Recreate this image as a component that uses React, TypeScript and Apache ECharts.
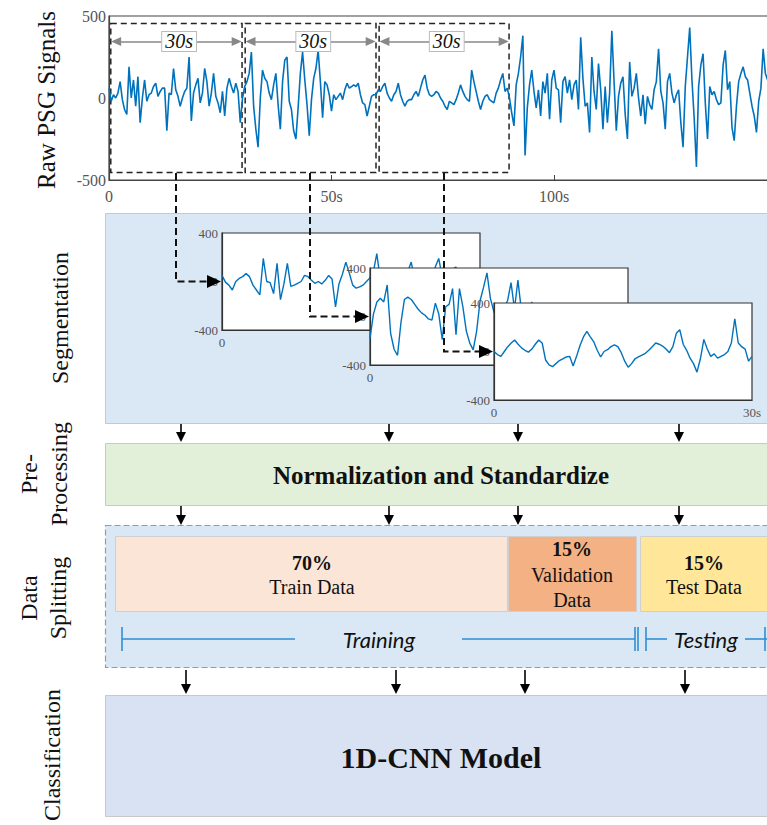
import React, { useEffect, useRef } from "react";
import * as echarts from "echarts";

// ---------------- DATA ----------------
const RAW_STEP = 0.5; // seconds between raw samples
const rawSignal = [
  // 0 - 29.5 s
  60, -20, 20, 0, 30, 100, -10, -70, -100, 190, 0, 110, -50, 130, -150, 0, 110, -20, 20, 30,
  70, 90, 10, 40, 60, 60, -200, 30, 20, 180, 50, 10, -50, 0, 40, 60, 250, -140, 30, 80,
  120, -30, 30, 180, 100, -50, 30, 150, 10, -30, -90, 40, -110, 60, 120, 70, 30, 90, 40, -150,
  // 30 - 59.5 s
  0, 70, 100, 150, 280, -50, -190, -300, 0, 170, 120, 100, 30, -10, 80, 150, -40, -190, 100, 230,
  250, -20, -70, -200, -250, -60, 150, 280, 110, -40, -230, -10, 120, 180, 290, 100, -120, 100, 80, 20,
  -80, 20, -10, 10, 30, -10, 50, 90, 60, 70, 80, 70, 90, 20, -30, -40, -110, -50, 10, 20,
  // 60 - 89.5 s
  20, 50, 40, 70, 90, 30, 0, -20, 20, 40, 90, 20, -20, -50, -20, -10, -10, 20, 40, 10,
  60, 110, 140, 60, 20, 10, 20, 40, 30, 0, -20, -50, -70, -20, -30, -40, -10, 30, 80, 40,
  10, -10, -20, 170, 100, 40, -20, -70, -20, 10, 20, -10, -20, -30, 30, 60, 110, 150, 40, 60,
  // 90 - 148 s
  0, -90, -170, 80, 150, 250, 380, -350, -60, 80, 170, 40, -60, 50, -110, 100, 30, 150, -130, 110,
  170, 60, 50, -150, 100, 130, 30, 110, -10, 80, 110, -70, 370, 120, -50, -30, -210, 250, 40, -70,
  210, 50, -190, 70, -150, 30, 410, 100, -200, 10, 90, 130, -100, -250, 220, 10, 60, 150, 0, -110,
  20, -160, 10, -40, -70, 50, 100, 300, 40, -30, -190, 100, 150, 30, -30, 20, 50, -150, -300, 70,
  250, 430, 110, -120, -420, 70, 200, 270, -30, -250, 70, 20, 40, -10, -40, -30, 200, 290, 50, 100,
  -180, -260, -50, 100, 150, 190, 130, 110, 30, -50, -110, -210, -20, 60, 300, 150, 110,
];

const SEG_STEP = 0.4; // seconds between segment samples
const segment1 = [
  50, -5, -30, -70, 0, 25, 40, 65, 40, -30, -70, -110, 190, 0, -10, -100, 150, -150, -20, 150,
  -40, -30, -15, 0, 50, 40, 10, -15, 0, -20, 10, 50, 20, -210, -20, 60, 160, 70, -30, -55,
  -45, -30, 0, 30, 80, 230, 20, -40, 10, 40, -20, 30, 60, 0, 80, 160, 20, -60, 10, 50,
  70, 30, 120, 190, 40, -20, 40, 100, 120, 30, 0, 40, 20, -30, 10, 20,
];
const segment2 = [
  -180, 20, 120, 150, 120, 260, -140, -270, -320, -50, 140, 160, 140, 100, 60, 30, 10, -20, -30, 110,
  20, -190, 80, 100, 230, -150, 230, 80, -120, -220, -275, -120, 130, 240, 360, 150, 40, -20, 30, 80,
  130, 280, 60, 300, 50, -60, -20, 120, 30, -40, 10, 50, -30, -60, 20, 40, -10, -80, -30, 40,
  60, 0, -50, 20, 70, 30, -40, -90, 10, 60, 20, -30, 40, 80, 10, -20,
];
const segment3 = [
  0, -25, -40, 0, 40, 70, 95, 60, 30, 10, -5, 20, 60, 95, 70, -70, -110, -125, -100, -75,
  -60, -45, -40, -120, -40, 50, 120, 165, 120, 80, 10, -45, 0, 15, 40, 55, 40, -10, -80, -130,
  -100, -60, -45, -30, -15, 10, 40, 70, 60, 45, 20, -10, 40, 150, 180, 60, 10, -55, -100, -170,
  -60, 100, 20, -40, -20, -55, -40, -25, 0, 70, 270, 70, 40, 20, -80, -40,
];

const windowsSec = [
  [0.4, 29.9],
  [30.6, 60.0],
  [60.7, 89.9],
];
const windowLabel = "30s";
const rawYTicks = { min: -500, max: 500, interval: 500 };
const segYTicks = { min: -400, max: 400, interval: 400 };
const SEG_LEN = 30;

const stageLabels = ["Raw PSG Signals", "Segmentation", "Pre-\nProcessing", "Data\nSplitting", "Classification"];
const splitShares = ["70%", "15%", "15%"];
const splitNames = ["Train Data", "Validation\nData", "Test Data"];
const phaseNames = ["Training", "Testing"];
const preText = "Normalization and Standardize";
const modelText = "1D-CNN Model";

// ---------------- STYLE ----------------
const SERIF = '"Liberation Serif", "Times New Roman", serif';
const SIG = "#0072BD";
const AX = "#444";
const LBL = "#555";

const toPairs = (arr: number[], step: number) => arr.map((v, i) => [+(i * step).toFixed(2), v]);

function downArrow(x: number, y1: number, y2: number) {
  return [
    { type: "line", z: 30, shape: { x1: x, y1, x2: x, y2: y2 - 8 }, style: { stroke: "#000", lineWidth: 1.6 } },
    { type: "polygon", z: 30, shape: { points: [[x - 5, y2 - 10], [x + 5, y2 - 10], [x, y2]] }, style: { fill: "#000" } },
  ];
}

function connector(x: number, yTop: number, yMid: number, xEnd: number) {
  return [
    {
      type: "polyline",
      z: 30,
      shape: { points: [[x, yTop], [x, yMid], [xEnd - 14, yMid]] },
      style: { stroke: "#111", lineWidth: 2, lineDash: [7, 4], fill: null },
    },
    {
      type: "polygon",
      z: 30,
      shape: { points: [[xEnd - 15, yMid - 6.5], [xEnd - 15, yMid + 6.5], [xEnd - 1, yMid]] },
      style: { fill: "#000" },
    },
  ];
}

function vText(text: string, x: number, y: number, size = 24) {
  return {
    type: "text",
    z: 5,
    x,
    y,
    rotation: Math.PI / 2,
    style: {
      text,
      fill: "#111",
      fontSize: size,
      fontFamily: SERIF,
      align: "center",
      verticalAlign: "middle",
    },
  };
}

function hText(text: string, x: number, y: number, size: number, bold = false, extra: any = {}) {
  return {
    type: "text",
    z: 5,
    x,
    y,
    style: {
      text,
      fill: "#111",
      fontSize: size,
      fontFamily: SERIF,
      fontWeight: bold ? "bold" : "normal",
      align: "center",
      verticalAlign: "middle",
      ...extra,
    },
  };
}

function bracketLine(x1: number, x2: number, y: number) {
  return { type: "line", z: 5, shape: { x1, y1: y, x2, y2: y }, style: { stroke: "#2F8ED4", lineWidth: 1.6 } };
}
function cap(x: number, y: number) {
  return { type: "line", z: 5, shape: { x1: x, y1: y - 12, x2: x, y2: y + 12 }, style: { stroke: "#2F8ED4", lineWidth: 1.6 } };
}

function segGrid(left: number, top: number, z: number) {
  return {
    left,
    top,
    width: 258,
    height: 97,
    show: true,
    backgroundColor: "#fff",
    borderColor: "#333",
    borderWidth: 1.2,
    outerBoundsMode: "none",
    z,
  };
}
function segX(idx: number, z: number, showEnd: boolean) {
  return {
    type: "value",
    gridIndex: idx,
    min: 0,
    max: SEG_LEN,
    interval: SEG_LEN,
    z,
    axisLine: { show: true, onZero: false, lineStyle: { color: "#333", width: 1.2 } },
    axisTick: { show: false },
    splitLine: { show: false },
    axisLabel: {
      color: LBL,
      fontFamily: SERIF,
      fontSize: 13,
      margin: 6,
      showMaxLabel: showEnd,
      formatter: (v: number) => (v === 0 ? "0" : v + "s"),
    },
  };
}
function segY(idx: number, z: number) {
  return {
    type: "value",
    gridIndex: idx,
    ...segYTicks,
    z,
    axisLine: { show: true, onZero: false, lineStyle: { color: "#333", width: 1.2 } },
    axisTick: { show: false },
    splitLine: { show: false },
    axisLabel: { color: LBL, fontFamily: SERIF, fontSize: 13, margin: 4 },
  };
}
function segSeries(idx: number, data: number[], z: number) {
  return {
    type: "line",
    xAxisIndex: idx,
    yAxisIndex: idx,
    data: toPairs(data, SEG_STEP),
    showSymbol: false,
    clip: false,
    z,
    lineStyle: { color: SIG, width: 1.4 },
  };
}

function buildOption() {
  const graphic: any[] = [];
  // stage backgrounds
  graphic.push({
    type: "rect",
    z: 0,
    shape: { x: 105.5, y: 213.5, width: 700, height: 210 },
    style: { fill: "#DAE8F5", stroke: "#c8c8c8", lineWidth: 1 },
  });
  graphic.push({
    type: "rect",
    z: 0,
    shape: { x: 105.5, y: 443.5, width: 700, height: 62 },
    style: { fill: "#E2F0D9", stroke: "#c8c8c8", lineWidth: 1 },
  });
  graphic.push({
    type: "rect",
    z: 0,
    shape: { x: 105.5, y: 525.5, width: 700, height: 142 },
    style: { fill: "#DAE8F5", stroke: "#9a9a9a", lineWidth: 1.2, lineDash: [6, 3] },
  });
  graphic.push({
    type: "rect",
    z: 1,
    shape: { x: 115.5, y: 536.5, width: 392, height: 75 },
    style: { fill: "#FBE5D6", stroke: "#cfcfcf", lineWidth: 1 },
  });
  graphic.push({
    type: "rect",
    z: 1,
    shape: { x: 508.5, y: 536.5, width: 128, height: 75 },
    style: { fill: "#F4B183", stroke: "#cfcfcf", lineWidth: 1 },
  });
  graphic.push({
    type: "rect",
    z: 1,
    shape: { x: 640.5, y: 536.5, width: 140, height: 75 },
    style: { fill: "#FFE699", stroke: "#cfcfcf", lineWidth: 1 },
  });
  graphic.push({
    type: "rect",
    z: 0,
    shape: { x: 105.5, y: 695.5, width: 700, height: 121 },
    style: { fill: "#D8E2F2", stroke: "#c8c8c8", lineWidth: 1 },
  });

  // stage labels (vertical)
  graphic.push(vText(stageLabels[0], 46, 100, 25));
  graphic.push(vText(stageLabels[1], 60, 318, 24));
  const pre = stageLabels[2].split("\n");
  graphic.push(vText(pre[0], 29, 474, 24));
  graphic.push(vText(pre[1], 59, 474, 24));
  const ds = stageLabels[3].split("\n");
  graphic.push(vText(ds[0], 29, 598, 24));
  graphic.push(vText(ds[1], 58, 598, 24));
  graphic.push(vText(stageLabels[4], 52, 755, 24));

  // box texts
  graphic.push(hText(preText, 441, 475, 25, true));
  graphic.push(hText(splitShares[0], 312, 563, 20, true));
  graphic.push(hText(splitNames[0], 312, 587, 20));
  graphic.push(hText(splitShares[1], 572, 549, 20, true));
  const vn = splitNames[1].split("\n");
  graphic.push(hText(vn[0], 572, 575, 20));
  graphic.push(hText(vn[1], 572, 600, 20));
  graphic.push(hText(splitShares[2], 704, 563, 20, true));
  graphic.push(hText(splitNames[2], 704, 587, 20));
  graphic.push(hText(modelText, 441, 757, 30, true));

  // training / testing brackets
  const by = 639;
  graphic.push(cap(122, by), bracketLine(122, 295, by), bracketLine(462, 635, by), cap(635, by), cap(638, by));
  graphic.push(hText(phaseNames[0], 379, by, 22, false, { fontFamily: "Lato, 'Open Sans', sans-serif", fontStyle: "italic" }));
  graphic.push(cap(646, by), bracketLine(646, 667, by));
  graphic.push(hText(phaseNames[1], 706, by, 22, false, { fontFamily: "Lato, 'Open Sans', sans-serif", fontStyle: "italic" }));
  graphic.push(bracketLine(745, 767, by), cap(765, by));

  // down arrows
  [181, 389, 518, 679].forEach((x) => graphic.push(...downArrow(x, 424, 442)));
  [181, 389, 518, 679].forEach((x) => graphic.push(...downArrow(x, 506, 525)));
  [186, 396, 525, 685].forEach((x) => graphic.push(...downArrow(x, 670, 694)));

  // segmentation connectors
  graphic.push(...connector(176, 173, 281.5, 222));
  graphic.push(...connector(310, 173, 316.5, 370));
  graphic.push(...connector(444, 173, 351.5, 494));

  return {
    animation: false,
    grid: [
      {
        left: 109,
        top: 16,
        width: 700,
        height: 164,
        show: true,
        backgroundColor: "#fff",
        borderColor: AX,
        borderWidth: 1.2,
        outerBoundsMode: "none",
        z: 1,
      },
      segGrid(222, 233, 1),
      segGrid(370, 268, 4),
      segGrid(494, 303, 7),
    ],
    xAxis: [
      {
        type: "value",
        gridIndex: 0,
        min: 0,
        max: 700 / 4.45,
        interval: 50,
        z: 1,
        axisLine: { show: true, onZero: false, lineStyle: { color: AX, width: 1.2 } },
        axisTick: { show: true, inside: true, length: 5, lineStyle: { color: AX } },
        splitLine: { show: false },
        axisLabel: {
          color: LBL,
          fontFamily: SERIF,
          fontSize: 16,
          margin: 8,
          showMaxLabel: false,
          formatter: (v: number) => (v === 0 ? "0" : v >= 150 ? "" : v + "s"),
        },
      },
      segX(1, 1, false),
      segX(2, 4, false),
      segX(3, 7, true),
    ],
    yAxis: [
      {
        type: "value",
        gridIndex: 0,
        ...rawYTicks,
        z: 1,
        axisLine: { show: true, onZero: false, lineStyle: { color: AX, width: 1.2 } },
        axisTick: { show: false },
        splitLine: { show: false },
        axisLabel: { color: LBL, fontFamily: SERIF, fontSize: 16, margin: 3 },
      },
      segY(1, 1),
      segY(2, 4),
      segY(3, 7),
    ],
    series: [
      {
        type: "line",
        xAxisIndex: 0,
        yAxisIndex: 0,
        data: toPairs(rawSignal, RAW_STEP),
        showSymbol: false,
        z: 2,
        lineStyle: { color: SIG, width: 1.6 },
        markArea: {
          silent: true,
          itemStyle: { color: "rgba(0,0,0,0)", borderColor: "#222", borderWidth: 1.5, borderType: [6, 4] },
          data: windowsSec.map((w) => [{ coord: [w[0], 455] }, { coord: [w[1], -455] }]),
        },
        markLine: {
          silent: true,
          symbol: ["triangle", "triangle"],
          symbolSize: [9, 10],
          lineStyle: { color: "#888", width: 1.5, type: "solid" },
          label: { show: false },
          data: windowsSec.map((w) => [{ coord: [w[0] + 1.2, 345] }, { coord: [w[1] - 1.2, 345] }]),
        },
        markPoint: {
          silent: true,
          symbol: "rect",
          symbolSize: 0,
          label: {
            show: true,
            position: "inside",
            formatter: windowLabel,
            color: "#111",
            fontFamily: SERIF,
            fontStyle: "italic",
            fontSize: 20,
            backgroundColor: "#fff",
            borderColor: "#bbb",
            borderWidth: 1,
            padding: [0, 3],
            lineHeight: 19,
          },
          data: windowsSec.map((w) => ({ coord: [(w[0] + w[1]) / 2 + 0.6, 345], value: 30 })),
        },
      },
      segSeries(1, segment1, 2),
      segSeries(2, segment2, 5),
      segSeries(3, segment3, 8),
    ],
    graphic,
  };
}

export default function App() {
  const ref = useRef<HTMLDivElement>(null);
  useEffect(() => {
    document.body.style.margin = "0";
    const chart = echarts.init(ref.current!, null, { renderer: "svg" });
    chart.setOption(buildOption() as any);
    return () => chart.dispose();
  }, []);
  return <div ref={ref} style={{ width: 767, height: 825, background: "#fff" }} />;
}
